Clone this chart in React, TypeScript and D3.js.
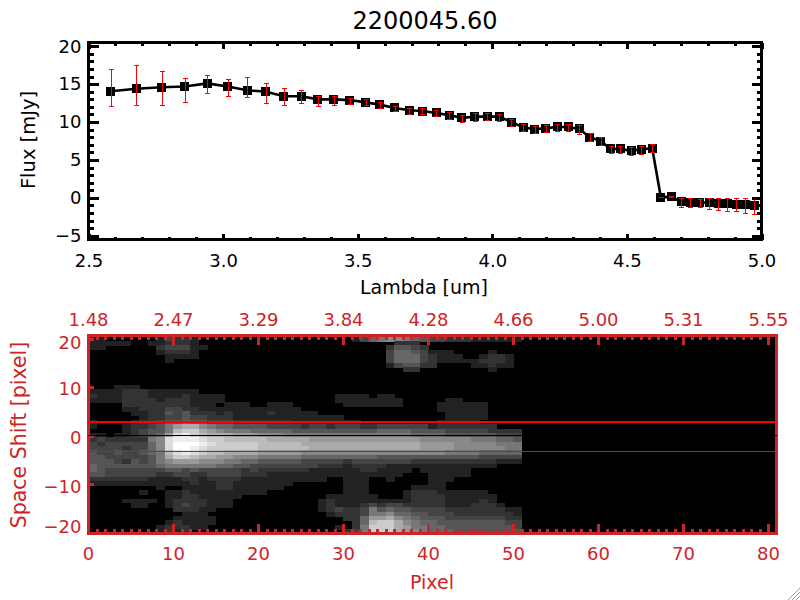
import { useEffect, useRef } from "react";
import * as d3 from "d3";

const TITLE = "2200045.60";
const RED = "#cc2529";

// spectrum
const lambda = [
  2.582, 2.678, 2.772, 2.858, 2.941, 3.017, 3.089, 3.159, 3.226, 3.291, 3.352, 3.411, 3.471, 3.529, 3.582, 3.638,
  3.691, 3.739, 3.791, 3.841, 3.887, 3.935, 3.982, 4.026, 4.071, 4.115, 4.158, 4.199, 4.241, 4.282, 4.323, 4.362,
  4.402, 4.44, 4.476, 4.516, 4.554, 4.594, 4.626, 4.664, 4.702, 4.736, 4.771, 4.806, 4.839, 4.873, 4.906, 4.939, 4.973,
];
const flux = [
  14.06, 14.4, 14.6, 14.7, 15.1, 14.7, 14.2, 14.0, 13.4, 13.4, 13.0, 13.0, 12.9, 12.6, 12.3, 11.86,
  11.55, 11.45, 11.2, 10.9, 10.55, 10.7, 10.75, 10.7, 10.0, 9.3, 9.05, 9.2, 9.35, 9.35, 9.1, 8.0,
  7.5, 6.45, 6.45, 6.2, 6.4, 6.55, 0.1, 0.13, -0.53, -0.57, -0.6, -0.65, -0.7, -0.8, -0.85, -0.9, -0.95,
];
const fluxHigh = [
  17.0, 17.55, 16.7, 15.8, 16.2, 15.7, 16.0, 15.2, 14.5, 14.2, 13.5, 13.45, 13.2, 13.0, 12.7, 12.1,
  11.9, 11.8, 11.6, 11.3, 10.9, 11.15, 11.2, 11.0, 10.4, 9.75, 9.5, 9.65, 9.8, 9.8, 9.55, 8.5,
  8.0, 6.9, 6.9, 6.65, 6.9, 7.05, 0.15, 0.18, 0.0, -0.05, -0.1, -0.05, -0.05, -0.05, -0.05, 0.0, -0.05,
];
const fluxLow = [
  12.1, 12.2, 12.2, 12.7, 13.9, 13.5, 13.3, 12.5, 12.2, 12.5, 12.1, 12.3, 12.4, 12.2, 11.8, 11.5,
  11.1, 11.1, 10.75, 10.45, 10.05, 10.2, 10.3, 10.2, 9.5, 8.8, 8.5, 8.75, 8.85, 8.8, 8.4, 7.5,
  7.0, 5.9, 5.9, 5.7, 5.85, 6.0, 0.05, 0.08, -1.15, -1.15, -1.25, -1.45, -1.6, -1.7, -1.8, -2.0, -2.15,
];

const lambdaTicks = [2.5, 3.0, 3.5, 4.0, 4.5, 5.0];
const lambdaMinor = d3.range(25, 51).map((v) => v / 10);
const fluxTicks = [-5, 0, 5, 10, 15, 20];
const fluxMinor = d3.range(-5, 21);

const pixelTicks = [0, 10, 20, 30, 40, 50, 60, 70, 80];
const pixelMinor = d3.range(0, 81);
const topLabels = ["1.48", "2.47", "3.29", "3.84", "4.28", "4.66", "5.00", "5.31", "5.55"];
const shiftTicks = [-20, -10, 0, 10, 20];
const apertures = [2.8, -3.2];

// 2D spectrum, one hex gray level per cell, top row first, 51 columns
const heatRows = [
  "22000000243320000 00000000000000246 78876544333222222",
  "22000000243320000 00000000000000246 78876544333222222",
  "22222002233320000 00000000000000000 00333000000000000",
  "22000000344422000 00000000000000000 03554300000000000",
  "00000000233320000 00000000000000000 04665422200002000",
  "00000000022220000 00000000000000000 04666432220023320",
  "00000000020000000 00000000000000000 04666432222233320",
  "00000000000000000 00000000000000000 02455330000223220",
  "00000000000000000 00000000000000000 00033000000002000",
  "00000000000000000 00000000000000000 00000000000000000",
  "00000000000000000 00000000000000000 00000000000000000",
  "00000000000000000 00000000000000000 00000000000000000",
  "00022200000000000 00000000000000000 00000000000000000",
  "22223332222220000 00000000000000000 00000000000000000",
  "32223332222322220 00000000000022220 22000000000000000",
  "22223333233322220 00000000000022222 22200000220000000",
  "00003333333322202 22002220000002222 22200002222220000",
  "00002233344332222 22222222000000000 00000002222220000",
  "00000223354533323 22223222220000000 00000000222220000",
  "00000023344544333 22222222222220000 00000000222220000",
  "20000233455655444 33333332222222200 00000002222200000",
  "20002334579aa8766 55554444344344433 44444423333333000",
  "0000234557bcca987 77666665555555555 66665555444443333",
  "2202234569decbaaa 99988877777777777 77776666555555444",
  "343333378deeedccb bbbbaaaaa99999999 99999888888777665",
  "434444468dfffedcc cccbbbbbaaaaaaaaa aaaaa999988888777",
  "444434468dffedccc cccbbbbbbaaaaaaaa aaaaa999988888877",
  "544544567bdedcbba aaa99999888888888 88888888777766666",
  "554444457accbaa99 88877777666666666 55555555555544444",
  "55543545789998887 76655555444443444 44443333333333222",
  "65555555677777766 55444444443332333 32222222222222000",
  "65444444455454444 43433333322222233 22220222222000000",
  "55444444334433444 43332222222222222 22200022222000000",
  "33333332222332333 32222222222002220 02000022200000000",
  "22222222222232233 22222220000002220 00000022000000000",
  "00000000200222233 22222200000002220 00002222000000000",
  "00000020022322222 22220000000002220 00023332222220000",
  "00000000022332222 20000000000222222 00023333222222000",
  "00002222023333222 00000000002322222 22223333222232000",
  "00000220023433222 00000000002322234 34433333222333200",
  "00000000003332200 00000000002343347 56554444333333322",
  "00000000000222000 00000000000233347 78665544433333332",
  "00000000002222200 00000000000003369 9a876555444444433",
  "00000000023222200 0000000000000036b cca87665555555544",
  "00000000233322000 0000000000002037c cca97766555555554",
  "00000000232300000 0000000000000347c cca98766655555555",
];

function styleAxis(g: d3.Selection<SVGGElement, unknown, null, undefined>, color: string, width: number, size: number) {
  g.attr("font-family", null).attr("font-size", null);
  g.select(".domain").remove();
  g.selectAll("line").attr("stroke", color).attr("stroke-width", width).attr("shape-rendering", "crispEdges");
  g.selectAll("text").attr("fill", color).attr("font-size", size);
}

export default function App() {
  const svgRef = useRef<SVGSVGElement>(null);

  useEffect(() => {
    const svgEl = svgRef.current;
    if (!svgEl) return;
    const svg = d3.select(svgEl);
    svg.selectAll("*").remove();

    // ---- top panel
    const x = d3.scaleLinear().domain([2.5, 5.0]).range([88.5, 761.5]);
    const y = d3.scaleLinear().domain([-5.5, 20.5]).range([239.5, 42.5]);
    const top = svg.append("g");

    top.append("text").attr("x", 425).attr("y", 29).attr("text-anchor", "middle").attr("font-size", 24).text(TITLE);

    const line = d3
      .line<number>()
      .x((d) => x(d))
      .y((_, i) => y(flux[i]));
    top.append("path").datum(lambda).attr("fill", "none").attr("stroke", "#000").attr("stroke-width", 2.6).attr("d", line);

    top
      .selectAll(".marker")
      .data(lambda)
      .join("rect")
      .attr("x", (d) => x(d) - 4.5)
      .attr("y", (_, i) => y(flux[i]) - 4.5)
      .attr("width", 9)
      .attr("height", 9)
      .attr("shape-rendering", "crispEdges");

    // snapped to the pixel grid so the 1px bars stay pure red
    const snap = (v: number) => Math.round(v) + 0.5;
    const errors = top.append("g").attr("stroke", "#ff0000").attr("stroke-width", 1);
    lambda.forEach((d, i) => {
      const px = snap(x(d));
      const hi = snap(y(fluxHigh[i]));
      const lo = snap(y(fluxLow[i]));
      errors.append("line").attr("x1", px).attr("x2", px).attr("y1", hi).attr("y2", lo);
      errors.append("line").attr("x1", px - 2.5).attr("x2", px + 2.5).attr("y1", hi).attr("y2", hi);
      errors.append("line").attr("x1", px - 2.5).attr("x2", px + 2.5).attr("y1", lo).attr("y2", lo);
    });

    const topAxes: [d3.Axis<d3.NumberValue>, string][] = [
      [d3.axisBottom(x).tickValues(lambdaMinor).tickSize(-3).tickFormat(() => ""), "translate(0,239.5)"],
      [d3.axisBottom(x).tickValues(lambdaTicks).tickSize(-6).tickPadding(15).tickFormat(d3.format(".1f")), "translate(0,239.5)"],
      [d3.axisTop(x).tickValues(lambdaMinor).tickSize(-3).tickFormat(() => ""), "translate(0,42.5)"],
      [d3.axisTop(x).tickValues(lambdaTicks).tickSize(-6).tickFormat(() => ""), "translate(0,42.5)"],
      [d3.axisLeft(y).tickValues(fluxMinor).tickSize(-5).tickFormat(() => ""), "translate(88.5,0)"],
      [d3.axisLeft(y).tickValues(fluxTicks).tickSize(-10).tickPadding(7).tickFormat(d3.format("d")), "translate(88.5,0)"],
      [d3.axisRight(y).tickValues(fluxMinor).tickSize(-5).tickFormat(() => ""), "translate(761.5,0)"],
      [d3.axisRight(y).tickValues(fluxTicks).tickSize(-10).tickFormat(() => ""), "translate(761.5,0)"],
    ];
    topAxes.forEach(([axis, transform]) => {
      const g = top.append("g").attr("transform", transform).call(axis as never);
      styleAxis(g as never, "#000", 3, 18);
    });

    top
      .append("rect")
      .attr("x", x.range()[0])
      .attr("y", y.range()[1])
      .attr("width", x.range()[1] - x.range()[0])
      .attr("height", y.range()[0] - y.range()[1])
      .attr("fill", "none")
      .attr("stroke", "#000")
      .attr("stroke-width", 3)
      .attr("shape-rendering", "crispEdges");

    top.append("text").attr("x", 424).attr("y", 294).attr("text-anchor", "middle").attr("font-size", 19).text("Lambda [um]");
    top
      .append("text")
      .attr("transform", "translate(35,140) rotate(-90)")
      .attr("text-anchor", "middle")
      .attr("font-size", 19.5)
      .text("Flux [mJy]");

    // ---- bottom panel
    const px = d3.scaleLinear().domain([0, 81]).range([88, 776.5]);
    const shift = d3.scaleLinear().domain([-20, 20.8]).range([533, 335]);
    const rowBand = d3.scaleBand<number>().domain(d3.range(heatRows.length)).range([332.3, 533.5]);
    const bottom = svg.append("g").attr("fill", RED);

    bottom.append("clipPath").attr("id", "heat-clip").append("rect").attr("x", 88).attr("y", 335).attr("width", 688.5).attr("height", 198);
    const heat = bottom.append("g").attr("clip-path", "url(#heat-clip)");
    heat.append("rect").attr("x", 88).attr("y", 335).attr("width", 688.5).attr("height", 198).attr("fill", "#000");

    const cells = heatRows.flatMap((row, r) =>
      row
        .replace(/ /g, "")
        .split("")
        .map((ch, c) => ({ r, c, v: parseInt(ch, 16) }))
    );
    heat
      .selectAll(".cell")
      .data(cells.filter((d) => d.v > 0))
      .join("rect")
      .attr("x", (d) => px(d.c))
      .attr("y", (d) => rowBand(d.r) ?? 0)
      .attr("width", px(1) - px(0) + 0.5)
      .attr("height", rowBand.bandwidth() + 0.5)
      .attr("fill", (d) => d3.rgb(d.v * 17, d.v * 17, d.v * 17).formatHex())
      .attr("shape-rendering", "crispEdges");

    const bottomAxes: [d3.Axis<d3.NumberValue>, string][] = [
      [d3.axisBottom(px).tickValues(pixelMinor).tickSize(-4).tickFormat(() => ""), "translate(0,533)"],
      [d3.axisBottom(px).tickValues(pixelTicks).tickSize(-9).tickPadding(14).tickFormat(d3.format("d")), "translate(0,533)"],
      [d3.axisTop(px).tickValues(pixelMinor).tickSize(-4).tickFormat(() => ""), "translate(0,335.5)"],
      [d3.axisTop(px).tickValues(pixelTicks).tickSize(-9).tickPadding(10).tickFormat((_, i) => topLabels[i]), "translate(0,335.5)"],
    ];
    bottomAxes.forEach(([axis, transform]) => {
      const g = bottom.append("g").attr("transform", transform).call(axis as never);
      styleAxis(g as never, RED, 3, 18);
    });

    const shiftAxis = bottom
      .append("g")
      .attr("transform", "translate(88.5,0)")
      .call(d3.axisLeft(shift).tickValues(shiftTicks).tickSize(-5).tickPadding(7).tickFormat(d3.format("d")) as never);
    styleAxis(shiftAxis as never, RED, 3, 18);
    // the end labels sit inside the frame height, like the original
    shiftAxis.selectAll<SVGTextElement, number>("text").attr("dy", (d) => {
      if (d === -20) return "-0.03em";
      if (d === 20) return "0.55em";
      return "0.42em";
    });

    bottom
      .append("rect")
      .attr("x", 88.5)
      .attr("y", 335.5)
      .attr("width", 688)
      .attr("height", 197.5)
      .attr("fill", "none")
      .attr("stroke", RED)
      .attr("stroke-width", 3)
      .attr("shape-rendering", "crispEdges");

    apertures.forEach((v, i) => {
      bottom
        .append("line")
        .attr("x1", 88)
        .attr("x2", 776.5)
        .attr("y1", shift(v))
        .attr("y2", shift(v))
        .attr("stroke", "#ff0000")
        .attr("stroke-width", i === 0 ? 2 : 1)
        .attr("shape-rendering", "crispEdges");
    });
    bottom
      .append("line")
      .attr("x1", 88)
      .attr("x2", 777)
      .attr("y1", shift(0))
      .attr("y2", shift(0))
      .attr("stroke", "#000")
      .attr("stroke-width", 1)
      .attr("shape-rendering", "crispEdges");

    bottom.append("text").attr("x", 432).attr("y", 589).attr("text-anchor", "middle").attr("font-size", 19).text("Pixel");
    bottom
      .append("text")
      .attr("transform", "translate(26,435) rotate(-90)")
      .attr("text-anchor", "middle")
      .attr("font-size", 20.5)
      .text("Space Shift [pixel]");

    // window resize grip in the corner of the screenshot
    const grip = svg.append("g").attr("stroke", "#999").attr("stroke-width", 1);
    d3.range(3).forEach((k) => {
      grip.append("line").attr("x1", 800).attr("y1", 588 + k * 4).attr("x2", 788 + k * 4).attr("y2", 600);
    });
  }, []);

  return (
    <svg
      ref={svgRef}
      width={800}
      height={600}
      style={{ position: "absolute", left: 0, top: 0, display: "block", background: "#fff", fontFamily: "'DejaVu Sans', sans-serif" }}
    />
  );
}
